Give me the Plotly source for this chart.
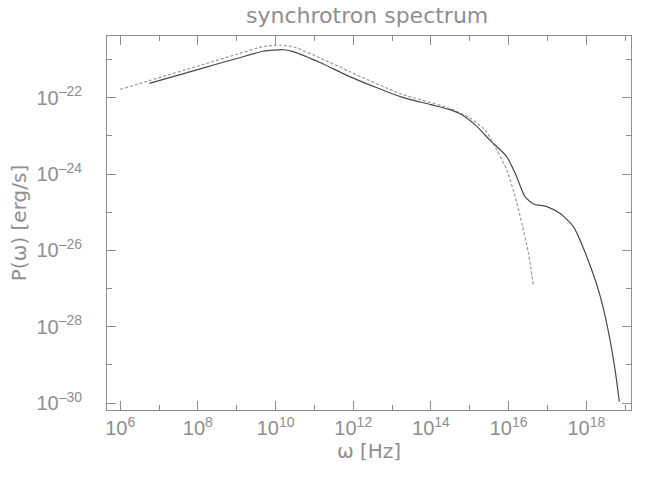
import numpy as np
import plotly.graph_objects as go

# log10 of frequency [Hz] and power [erg/s]
full_logw = [6.75, 8.06, 9.0, 9.68, 10.2, 10.45, 11.2, 11.92, 13.21, 14.0, 14.49,
             14.75, 15.14, 15.52, 15.95, 16.17, 16.42, 16.64, 16.98, 17.33, 17.67,
             18.01, 18.36, 18.61, 18.74, 18.85]
full_logp = [-21.62, -21.24, -20.97, -20.78, -20.74, -20.79, -21.10, -21.45, -21.97,
             -22.18, -22.31, -22.42, -22.71, -23.11, -23.54, -23.98, -24.59, -24.78,
             -24.85, -25.03, -25.38, -26.16, -27.21, -28.34, -29.13, -29.96]

approx_logw = [6.0, 6.75, 8.06, 9.0, 9.68, 10.12, 10.5, 11.2, 11.92, 13.21, 14.49,
               15.0, 15.4, 15.7, 15.95, 16.17, 16.34, 16.51, 16.64]
approx_logp = [-21.78, -21.55, -21.15, -20.86, -20.66, -20.62, -20.68, -20.98, -21.32,
               -21.89, -22.28, -22.53, -22.85, -23.37, -23.89, -24.59, -25.29, -26.07,
               -26.95]

x_major = [6, 8, 10, 12, 14, 16, 18]
x_minor = [7, 9, 11, 13, 15, 17, 19]
y_major = [-22, -24, -26, -28, -30]
y_minor = [-21, -23, -25, -27, -29]

GRAY = "#8f8f8f"
FONT = "Liberation Sans"
WIDE = "DejaVu Sans"


def pw(e):
    return "10<sup>" + str(e).replace("-", "\u2013") + "</sup>"


fig = go.Figure()

fig.add_trace(go.Scatter(
    x=10 ** np.array(approx_logw), y=10 ** np.array(approx_logp),
    mode="lines", line={"color": "#9a9a9a", "width": 1.2, "dash": "3px,2px", "shape": "spline", "smoothing": 0.6},
    showlegend=False, hoverinfo="skip",
))
fig.add_trace(go.Scatter(
    x=10 ** np.array(full_logw), y=10 ** np.array(full_logp),
    mode="lines", line={"color": "#4a4a4a", "width": 1.2, "shape": "spline", "smoothing": 0.6},
    showlegend=False, hoverinfo="skip",
))

axis_common = dict(
    type="log", showgrid=False, zeroline=False, mirror="allticks", automargin=False,
    showline=True, linecolor=GRAY, linewidth=1,
    ticks="inside", ticklen=9, tickcolor=GRAY, tickwidth=1,
    tickfont={"family": FONT, "size": 20, "color": GRAY},
)

fig.update_xaxes(
    **axis_common,
    range=[5.66, 19.15],
    tickmode="array", tickvals=[10 ** v for v in x_major], ticktext=[pw(v) for v in x_major],
    minor={"tickmode": "array", "tickvals": [10 ** v for v in x_minor], "ticklen": 5,
           "tickcolor": GRAY, "ticks": "inside"},
    title={"text": "\u03c9 [Hz]", "font": {"family": WIDE, "size": 20, "color": GRAY}, "standoff": 2},
)
fig.update_yaxes(
    **axis_common,
    range=[-30.18, -20.38],
    ticklabelstandoff=20,
    tickmode="array", tickvals=[10.0 ** v for v in y_major], ticktext=[pw(v) for v in y_major],
    minor={"tickmode": "array", "tickvals": [10.0 ** v for v in y_minor], "ticklen": 5,
           "tickcolor": GRAY, "ticks": "inside"},
    title={"text": "P(\u03c9) [erg/s]", "font": {"family": WIDE, "size": 20, "color": GRAY}, "standoff": 4},
)

fig.update_layout(
    width=664, height=478,
    margin={"l": 107, "r": 33, "t": 36, "b": 68},
    paper_bgcolor="white", plot_bgcolor="white",
    title={"text": "synchrotron spectrum", "x": 0.553, "xanchor": "center", "y": 0.985, "yanchor": "top",
           "font": {"family": WIDE, "size": 22, "color": GRAY}},
)

# the page body has a default 8px margin; drop it so the figure sits at 0,0
fig.write_html("out.html", config={"displayModeBar": False},
               post_script="document.body.style.margin='0';")
